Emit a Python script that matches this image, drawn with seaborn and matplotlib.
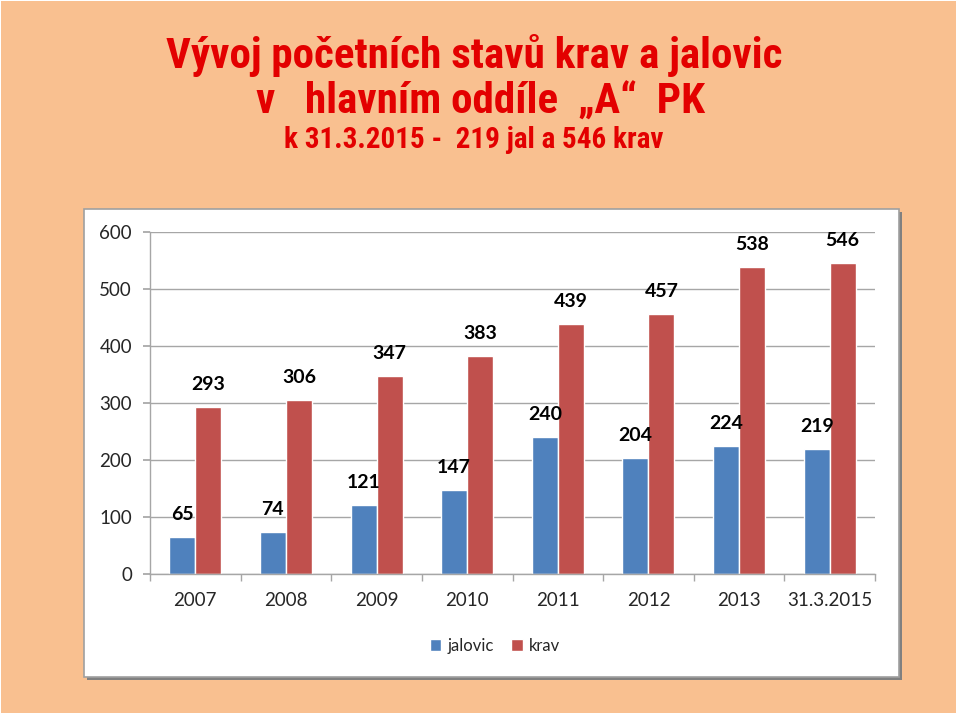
import matplotlib
matplotlib.use("Agg")
import matplotlib.pyplot as plt
import seaborn as sns
import pandas as pd
from matplotlib.patches import Rectangle
from matplotlib.ticker import FixedLocator
from matplotlib import font_manager

categories = ["2007", "2008", "2009", "2010", "2011", "2012", "2013", "31.3.2015"]
jalovic = [65, 74, 121, 147, 240, 204, 224, 219]
krav = [293, 306, 347, 383, 439, 457, 538, 546]
series_names = ["jalovic", "krav"]
yticks = [0, 100, 200, 300, 400, 500, 600]

df = pd.DataFrame({
    "cat": categories * 2,
    "val": jalovic + krav,
    "series": [series_names[0]] * len(categories) + [series_names[1]] * len(categories),
})

sns.set_theme(style="white")
plt.rcParams["font.family"] = ["Lato", "DejaVu Sans"]

names = sorted({f.name for f in font_manager.fontManager.ttflist})
narrow_name = None
for cand in ["Liberation Sans Narrow", "Arial Narrow", "Roboto Condensed", "Open Sans Condensed"]:
    if cand in names:
        narrow_name = cand
        break

W, H = 960, 716
fig = plt.figure(figsize=(9.6, 7.16), dpi=100)
fig.patch.set_facecolor("white")

def fx(x): return x / W
def fy(y): return 1 - y / H

fig.patches.append(Rectangle((fx(1), fy(713)), fx(956) - fx(1), fy(1) - fy(713),
                             transform=fig.transFigure, facecolor="#F9C090", edgecolor="none", zorder=-3))
fig.patches.append(Rectangle((fx(87), fy(680)), fx(815), fy(209) - fy(677),
                             transform=fig.transFigure, facecolor="#808080", edgecolor="none", zorder=-2))
fig.patches.append(Rectangle((fx(84), fy(677)), fx(815), fy(209) - fy(677),
                             transform=fig.transFigure, facecolor="white", edgecolor="#A0A0A0", lw=1.2, zorder=-1))

red = "#E30000"
if narrow_name:
    tkw = dict(family=[narrow_name, "DejaVu Sans"])
    s1, s3 = 31, 21
else:
    tkw = dict(family=["DejaVu Sans"], fontstretch="condensed")
    s1, s3 = 26, 19
fig.text(fx(474), fy(68), "Vývoj početních stavů krav a jalovic", ha="center", va="baseline",
         color=red, fontsize=s1, fontweight="bold", **tkw)
fig.text(fx(480), fy(114), "v   hlavním oddíle  „A“  PK", ha="center", va="baseline",
         color=red, fontsize=s1, fontweight="bold", **tkw)
fig.text(fx(474), fy(148), "k 31.3.2015 -  219 jal a 546 krav", ha="center", va="baseline",
         color=red, fontsize=s3, fontweight="bold", **tkw)

ax = fig.add_axes([fx(150), fy(574), fx(875) - fx(150), fy(232) - fy(574)])
ax.set_facecolor("none")
sns.barplot(data=df, x="cat", y="val", hue="series", order=categories,
            palette=["#4F81BD", "#C0504D"], width=0.575, ax=ax, saturation=1, legend=True)

for cont in ax.containers:
    ax.bar_label(cont, padding=10, fontsize=14, fontweight="bold", color="black")

ax.set_ylim(0, 600)
ax.set_xlim(-0.5, len(categories) - 0.5)
ax.set_yticks(yticks)
ax.yaxis.grid(True, color="#A6A6A6", lw=1)
ax.set_axisbelow(True)
ax.set_xlabel("")
ax.set_ylabel("")
for s in ["top", "right"]:
    ax.spines[s].set_visible(False)
for s in ["left", "bottom"]:
    ax.spines[s].set_visible(True)
    ax.spines[s].set_color("#A6A6A6")
    ax.spines[s].set_linewidth(1)
ax.tick_params(axis="y", length=5, color="#A6A6A6", pad=8, labelsize=13.5, labelcolor="#262626", left=True)
ax.tick_params(axis="x", which="major", length=0, pad=13, labelsize=13.5, labelcolor="#262626")
ax.xaxis.set_minor_locator(FixedLocator([i - 0.5 for i in range(len(categories) + 1)]))
ax.tick_params(axis="x", which="minor", length=5, color="#A6A6A6", bottom=True, direction="out")

leg = ax.legend(loc="center", bbox_to_anchor=(fx(495), fy(646)), bbox_transform=fig.transFigure,
                ncol=2, frameon=False, fontsize=12, handlelength=0.7, handleheight=0.7,
                handletextpad=0.4, columnspacing=1.0)
for t in leg.get_texts():
    t.set_color("#262626")

fig.savefig("out.png", dpi=100)
